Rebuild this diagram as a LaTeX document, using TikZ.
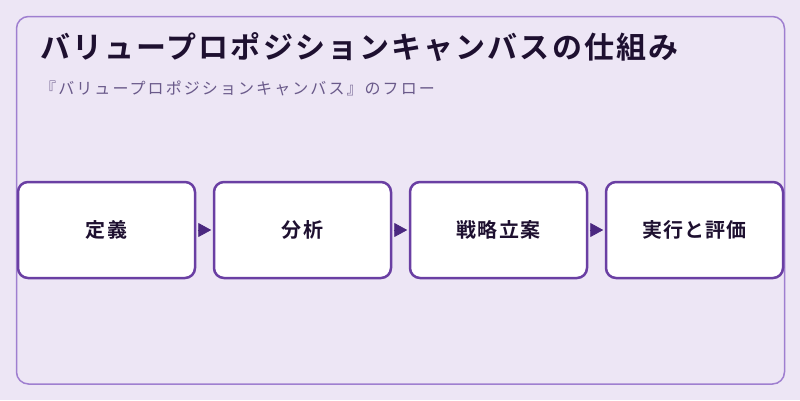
\documentclass[tikz,border=0pt]{standalone}
\usepackage{fontspec}
\setmainfont{Noto Sans CJK JP}
\newfontfamily\jpbold{Noto Sans CJK JP Bold}
\usetikzlibrary{arrows.meta}
\definecolor{bgc}{HTML}{EDE6F5}
\definecolor{framec}{HTML}{9F7FD0}
\definecolor{boxc}{HTML}{6A3FA3}
\definecolor{arrc}{HTML}{4B2880}
\definecolor{titlec}{HTML}{1E1030}
\definecolor{subc}{HTML}{6A5A8A}
\tikzset{
  stepbox/.style={draw=boxc, line width=2.5pt, fill=white, rounded corners=10pt,
    minimum width=177pt, minimum height=96pt, inner sep=0pt,
    font=\jpbold\fontsize{20}{22}\selectfont\addfontfeature{LetterSpace=6}, text=titlec},
  flow/.style={draw=arrc, fill=arrc, line width=0.8pt,
    -{Triangle[length=13pt,width=14pt]}, shorten <=1.5pt, shorten >=1.5pt}
}
\begin{document}
\begin{tikzpicture}[x=1pt,y=-1pt]
\useasboundingbox[fill=bgc] (0,0) rectangle (800,400);
\draw[framec, line width=1.5pt, rounded corners=12pt] (16.5,16.5) rectangle (784.5,384);
\node[anchor=west, inner sep=0pt, text=titlec, font=\jpbold\fontsize{30}{34}\selectfont\addfontfeature{LetterSpace=7}] (title) at (40,47) {バリュープロポジションキャンバスの仕組み};
\node[anchor=west, inner sep=0pt, text=subc, font=\fontsize{16}{18}\selectfont\addfontfeature{LetterSpace=13}] (sub) at (40,88) {『バリュープロポジションキャンバス』のフロー};
\node[stepbox] (s1) at (106.5,230) {定義};
\node[stepbox] (s2) at (302.5,230) {分析};
\node[stepbox] (s3) at (498.5,230) {戦略立案};
\node[stepbox] (s4) at (694.5,230) {実行と評価};
\draw[flow] (s1.east) -- (s2.west);
\draw[flow] (s2.east) -- (s3.west);
\draw[flow] (s3.east) -- (s4.west);
\end{tikzpicture}
\end{document}
